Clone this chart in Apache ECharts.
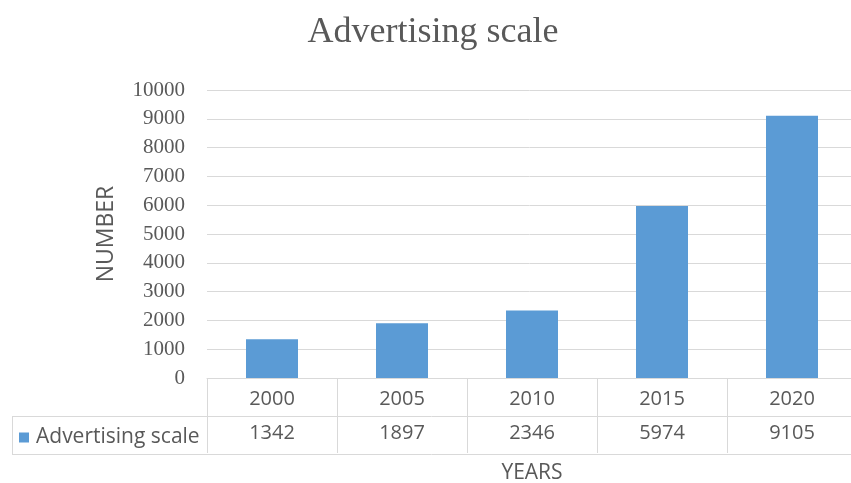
<!DOCTYPE html>
<html><head><meta charset="utf-8">
<script src="https://cdn.jsdelivr.net/npm/echarts@6/dist/echarts.min.js"></script>
<style>html,body{margin:0;padding:0;background:#fff}#c{width:851px;height:483px}</style>
</head><body><div id="c"></div>
<script>
const categories = ['2000', '2005', '2010', '2015', '2020'];
const seriesName = 'Advertising scale';
const values = [1342, 1897, 2346, 5974, 9105];
const yTicks = { min: 0, max: 10000, interval: 1000 };

const chart = echarts.init(document.getElementById('c'));
const gridLine = '#D9D9D9';
const txt = '#595959';
const sans = '"Open Sans", sans-serif';
const serif = '"Liberation Serif", serif';
chart.setOption({
  animation: false,
  title: { text: 'Advertising scale', left: 428, textAlign: 'center', top: 10,
    textStyle: { fontFamily: serif, fontSize: 36, fontWeight: 'normal', color: txt } },
  legend: { left: 14, top: 422, itemWidth: 10, itemHeight: 10, itemGap: 6, icon: 'rect',
    data: [seriesName], textStyle: { fontFamily: sans, fontSize: 21, color: txt, padding: [0,0,0,2] } },
  grid: { left: 207, top: 90, width: 650, height: 288, containLabel: false, outerBoundsMode: 'none' },
  xAxis: [{
    type: 'category', data: categories, position: 'bottom',
    axisLine: { show: true, lineStyle: { color: gridLine, width: 1 } },
    axisTick: { show: true, length: 75, lineStyle: { color: gridLine } },
    axisLabel: { margin: 11, fontFamily: sans, fontSize: 20, color: txt },
    name: 'YEARS', nameLocation: 'middle', nameGap: 85,
    nameTextStyle: { fontFamily: sans, fontSize: 21, color: txt }
  }, {
    type: 'category', data: values.map(String), position: 'bottom', offset: 37,
    axisLine: { show: false }, axisTick: { show: false },
    axisLabel: { margin: 8, fontFamily: sans, fontSize: 20, color: txt }
  }],
  yAxis: {
    type: 'value', min: yTicks.min, max: yTicks.max, interval: yTicks.interval,
    axisLine: { show: false }, axisTick: { show: false },
    splitLine: { lineStyle: { color: gridLine, width: 1 } },
    axisLabel: { margin: 22, fontFamily: serif, fontSize: 21, color: txt, formatter: v => String(v) },
    name: 'NUMBER', nameLocation: 'middle', nameGap: 89, nameRotate: 90,
    nameTextStyle: { fontFamily: sans, fontSize: 23, color: txt }
  },
  series: [{
    name: seriesName, type: 'bar', data: values, xAxisIndex: 0,
    barCategoryGap: '60%', itemStyle: { color: '#5B9BD5' }
  }],
  graphic: [
    { type: 'line', shape: { x1: 12, y1: 416.5, x2: 851, y2: 416.5 }, style: { stroke: gridLine, lineWidth: 1 } },
    { type: 'line', shape: { x1: 12, y1: 454.5, x2: 851, y2: 454.5 }, style: { stroke: gridLine, lineWidth: 1 } },
    { type: 'line', shape: { x1: 12.5, y1: 416, x2: 12.5, y2: 455 }, style: { stroke: gridLine, lineWidth: 1 } }
  ]
});
</script></body></html>
